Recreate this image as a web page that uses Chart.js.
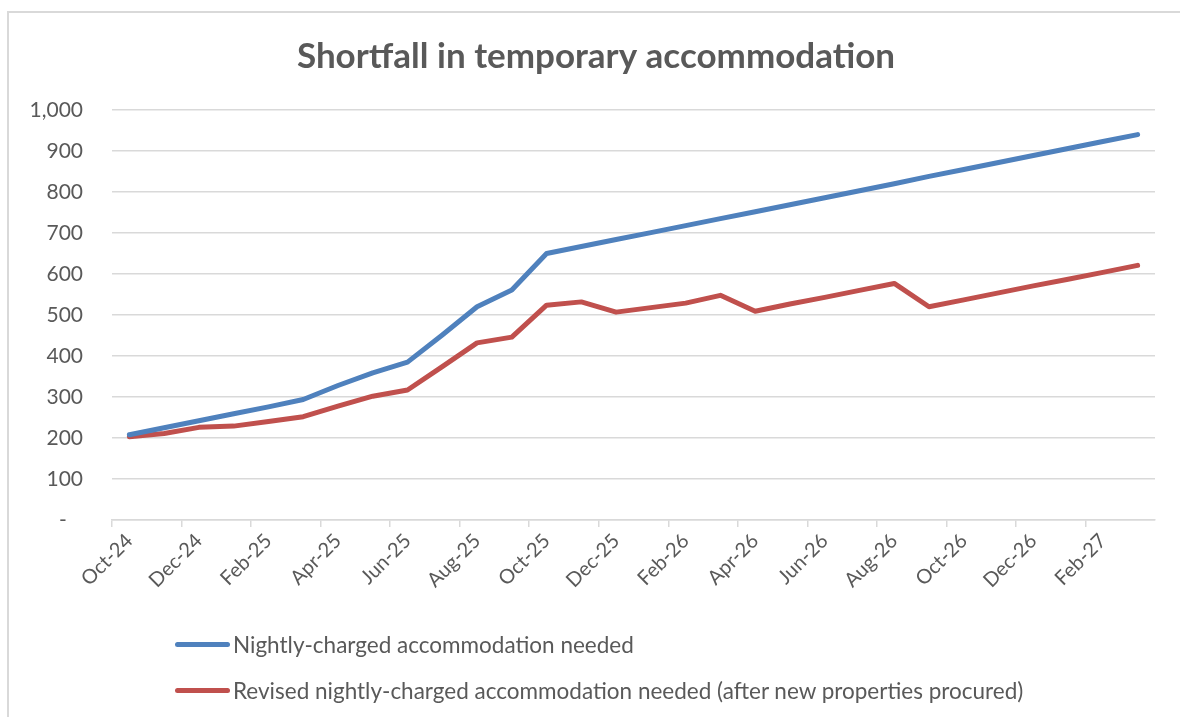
<!DOCTYPE html>
<html>
<head>
<meta charset="utf-8">
<script src="https://cdn.jsdelivr.net/npm/chart.js@4"></script>
<style>
  html, body { margin: 0; padding: 0; background: #ffffff; }
  #wrap { position: relative; width: 1180px; height: 717px; overflow: hidden; background: #fff; }
  #frame { position: absolute; left: 7px; top: 11px; width: 1200px; height: 740px; border-left: 2px solid #d9d9d9; border-top: 2px solid #d9d9d9; pointer-events: none; }
  #chartBox { position: absolute; left: 0; top: 0; width: 1180px; height: 717px; }
  #legend { position: absolute; left: 175px; top: 629px; font-family: Lato, "Open Sans", sans-serif; font-size: 22.5px; color: #595959; }
  .item { display: flex; align-items: center; height: 30px; margin-bottom: 16px; white-space: nowrap; }
  .swatch { width: 55px; height: 5px; border-radius: 3px; margin-right: 3px; }
</style>
</head>
<body>
<div id="wrap">
  <div id="chartBox"><canvas id="c"></canvas></div>
  <div id="frame"></div>
  <div id="legend"></div>
</div>
<script>
const months = ['Oct-24','Nov-24','Dec-24','Jan-25','Feb-25','Mar-25','Apr-25','May-25','Jun-25','Jul-25','Aug-25','Sep-25',
  'Oct-25','Nov-25','Dec-25','Jan-26','Feb-26','Mar-26','Apr-26','May-26','Jun-26','Jul-26','Aug-26','Sep-26',
  'Oct-26','Nov-26','Dec-26','Jan-27','Feb-27','Mar-27'];

const nightlyNeeded = [208, 225, 242, 259, 276, 294, 328, 359, 385, 451, 520, 561,
  650, 667, 684, 701, 718, 735, 752, 769, 786, 803, 820, 838,
  855, 872, 889, 906, 923, 940];

const revisedNeeded = [203, 211, 226, 229, 240, 252, 278, 302, 317, 374, 432, 446,
  524, 532, 507, 518, 529, 548, 509, 527, 543, 560, 577, 520,
  537, 554, 571, 587, 604, 621];

const seriesNames = ['Nightly-charged accommodation needed',
  'Revised nightly-charged accommodation needed (after new properties procured)'];
const seriesColors = ['#4f81bd', '#c0504d'];

const yTicks = [0, 100, 200, 300, 400, 500, 600, 700, 800, 900, 1000];

const FONT = 'Lato, "Open Sans", sans-serif';
const GREY = '#595959';
const GRID = '#d9d9d9';

const chart = new Chart(document.getElementById('c'), {
  type: 'line',
  data: {
    labels: months,
    datasets: [
      { label: seriesNames[0], data: nightlyNeeded, borderColor: seriesColors[0], backgroundColor: seriesColors[0] },
      { label: seriesNames[1], data: revisedNeeded, borderColor: seriesColors[1], backgroundColor: seriesColors[1] }
    ]
  },
  options: {
    responsive: true,
    maintainAspectRatio: false,
    animation: false,
    layout: { padding: { left: 12, right: 0, top: 0, bottom: 0 } },
    elements: {
      line: { borderWidth: 5, tension: 0, borderCapStyle: 'round', borderJoinStyle: 'round' },
      point: { radius: 0, hoverRadius: 0 }
    },
    plugins: {
      legend: { display: false },
      tooltip: { enabled: false },
      title: {
        display: true,
        text: 'Shortfall in temporary accommodation',
        color: GREY,
        font: { family: FONT, size: 35, weight: 'bold', lineHeight: 1.2 },
        padding: { top: 36, bottom: 32 }
      }
    },
    scales: {
      x: {
        type: 'category',
        offset: true,
        afterFit: (s) => { s.height = 197; },
        grid: {
          offset: true,
          drawOnChartArea: false,
          drawTicks: true,
          tickLength: 7,
          lineWidth: 1.5,
          color: (ctx) => (ctx.index % 2 === 0 ? GRID : 'rgba(0,0,0,0)'),
          tickColor: (ctx) => (ctx.index % 2 === 0 ? GRID : 'rgba(0,0,0,0)')
        },
        border: { display: true, color: GRID, width: 1.5 },
        ticks: {
          autoSkip: false,
          minRotation: 45,
          maxRotation: 45,
          padding: 2,
          color: GREY,
          font: { family: FONT, size: 20 },
          callback: function (v, i) { return i % 2 === 0 ? this.getLabelForValue(v) : ''; }
        }
      },
      y: {
        min: 0,
        max: 1000,
        afterFit: (s) => { s.width = 100; },
        afterBuildTicks: (s) => { s.ticks = yTicks.map(v => ({ value: v })); },
        grid: { color: GRID, lineWidth: 1.5, drawTicks: false },
        border: { display: false },
        ticks: {
          padding: 29,
          color: GREY,
          font: { family: FONT, size: 21 },
          callback: (v) => (v === 0 ? '-   ' : Number(v).toLocaleString('en-US'))
        }
      },
      yRightGap: {
        position: 'right',
        display: true,
        afterFit: (s) => { s.width = 25; },
        grid: { display: false, drawTicks: false },
        border: { display: false },
        ticks: { display: false }
      }
    }
  }
});

const legend = document.getElementById('legend');
chart.data.datasets.forEach(ds => {
  const row = document.createElement('div');
  row.className = 'item';
  const sw = document.createElement('span');
  sw.className = 'swatch';
  sw.style.background = ds.borderColor;
  const tx = document.createElement('span');
  tx.textContent = ds.label;
  row.appendChild(sw);
  row.appendChild(tx);
  legend.appendChild(row);
});
</script>
</body>
</html>
